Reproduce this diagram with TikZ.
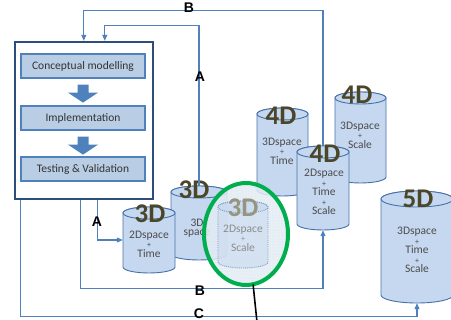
\documentclass[tikz,border=0pt]{standalone}
\usepackage{fontspec}
\setmainfont{Carlito}
\newfontfamily\letterfont{Liberation Sans}
\usetikzlibrary{arrows.meta,calc,patterns,shapes.geometric}

\definecolor{drumfill}{RGB}{198,216,240}
\definecolor{drumline}{RGB}{70,114,170}
\definecolor{stepfill}{RGB}{185,205,229}
\definecolor{stepline}{RGB}{79,129,189}
\definecolor{frameline}{RGB}{44,78,122}
\definecolor{linkblue}{RGB}{79,129,189}
\definecolor{dimtext}{RGB}{76,70,40}
\definecolor{fadetext}{RGB}{150,150,128}
\definecolor{focusgreen}{RGB}{0,174,78}
\definecolor{fadefill}{RGB}{228,237,244}

% cylinder: [opts]{name}{cx}{top ellipse y}{bottom ellipse y}{rx}{ry}
\newcommand\drum[7][]{%
  \filldraw[drum,#1] (#3-#6,-#4) -- (#3-#6,-#5)
    arc[start angle=180,end angle=360,x radius=#6,y radius=#7]
    -- (#3+#6,-#4) arc[start angle=0,end angle=180,x radius=#6,y radius=#7] -- cycle;
  \draw[drum,#1] (#3,-#4) ellipse[x radius=#6,y radius=#7];
  \node[inner sep=0,minimum width=2*#6,minimum height=#5-#4+2*#7] (#2) at (#3,{-(#4+#5)/2}) {};
}
% small plus between the lines of a cylinder text
\newcommand\plus{{\fontsize{8}{8}\selectfont +}}

\begin{document}
\begin{tikzpicture}[x=1pt,y=1pt,
    stepbox/.style={draw=stepline,fill=stepfill,line width=1.3pt,minimum width=124,minimum height=24,
      font=\fontsize{11.5}{12}\selectfont,text=black!80},
    frame/.style={draw=frameline,line width=2.4pt,inner sep=0},
    blockarrow/.style={fill=linkblue},
    link/.style={draw=linkblue,line width=1.1pt},
    tip/.style={-{Triangle[length=6pt,width=5pt]}},
    drum/.style={fill=drumfill,draw=drumline,line width=0.9pt},
    fadedrum/.style={fill opacity=0.55,draw=drumline!70,densely dotted},
    drumtext/.style={font=\fontsize{11.5}{9.6}\selectfont,align=center,text=black!70,inner sep=0},
    dimlabel/.style={font=\fontsize{27}{27}\selectfont\bfseries,text=dimtext,inner sep=0},
    letter/.style={font=\letterfont\fontsize{14}{14}\selectfont\bfseries,inner sep=0},
  ]
  \useasboundingbox (0,0) rectangle (451,-320);

  % process frame
  \node[frame,minimum width=138,minimum height=157] (frame) at (84,-120.5) {};
  \node[stepbox] (concept) at (83,-66) {Conceptual modelling};
  \node[stepbox] (implement) at (83,-118) {Implementation};
  \node[stepbox] (testing) at (83,-169) {Testing \& Validation};
  \foreach \u in {concept,implement}
    \fill[blockarrow] ($(\u.south)+(-5.5,-6)$) -- ++(11,0) -- ++(0,-8) -- ++(9.5,0)
      -- ++(-15,-10) -- ++(-15,10) -- ++(9.5,0) -- cycle;

  % cylinders
  \drum{drum2}{199}{192}{254}{28}{6}
  \node[drumtext] (txt2) at (197,-228) {3D\\space};
  \node[dimlabel] (dim2) at (194,-190) {3D};
  \drum{drum1}{149}{213}{267}{26}{6}
  \node[drumtext] (txt1) at (149,-244) {2Dspace\\\plus\\Time};
  \node[dimlabel] (dim1) at (150,-214) {3D};
  \drum{drum4}{282.5}{114}{190}{25.5}{6}
  \node[drumtext] (txt4) at (282,-151) {3Dspace\\\plus\\Time};
  \node[dimlabel] (dim4) at (281,-116) {4D};
  \drum{drum5}{360.5}{98}{177}{25.5}{6}
  \node[drumtext] (txt5) at (360,-135) {3Dspace\\\plus\\Scale};
  \node[dimlabel] (dim5) at (357,-95) {4D};
  \drum{drum6}{323}{152}{224}{26}{6}
  \node[drumtext] (txt6) at (324,-192) {2Dspace\\\plus\\Time\\\plus\\Scale};
  \node[dimlabel] (dim6) at (325,-154) {4D};
  \drum{drum7}{417}{199}{295}{36}{8}
  \node[drumtext] (txt7) at (417,-250) {3Dspace\\\plus\\Time\\\plus\\Scale};
  \node[dimlabel] (dim7) at (418,-199) {5D};

  % connectors
  \draw[link,tip] ($(frame.south west)+(84,0)$) |- (drum1.west);
  \draw[link,tip] ($(frame.south west)+(67,0)$) -- ++(0,-88) -| (drum6.south);
  \draw[link,tip] ($(frame.south west)+(7,0)$) -- ++(0,-116) -| (drum7.south);
  \draw[link,tip] (drum2.north) -- ++(0,160) -| ($(frame.north west)+(91,0)$);
  \draw[link,tip] (drum6.north) -- ++(0,135) -| ($(frame.north west)+(70,0)$);
  \node[letter] (labB1) at (189,-8) {B};
  \node[letter] (labA1) at (200,-77) {A};
  \node[letter] (labA2) at (97,-222) {A};
  \node[letter] (labB2) at (200,-291) {B};
  \node[letter] (labC) at (199,-313.5) {C};

  % highlighted cylinder
  \node[ellipse,inner sep=0,minimum width=84,minimum height=102,fill=fadefill,fill opacity=0.85,
    postaction={pattern=dots,pattern color=drumline!25}] (focus) at (246,-234) {};
  \drum[fadedrum]{drum3}{243}{207}{262}{25}{6}
  \node[drumtext,text=black!45] (txt3) at (243,-238) {2Dspace\\\plus\\Scale};
  \node[dimlabel,text=fadetext] (dim3) at (243,-208) {3D};
  \draw[focusgreen,line width=4pt] (focus.center) ellipse[x radius=42,y radius=51];
  \coordinate (pointer) at (257,-322);
  \draw[black,line width=1.6pt] (focus.-82) -- (pointer);
\end{tikzpicture}
\end{document}
